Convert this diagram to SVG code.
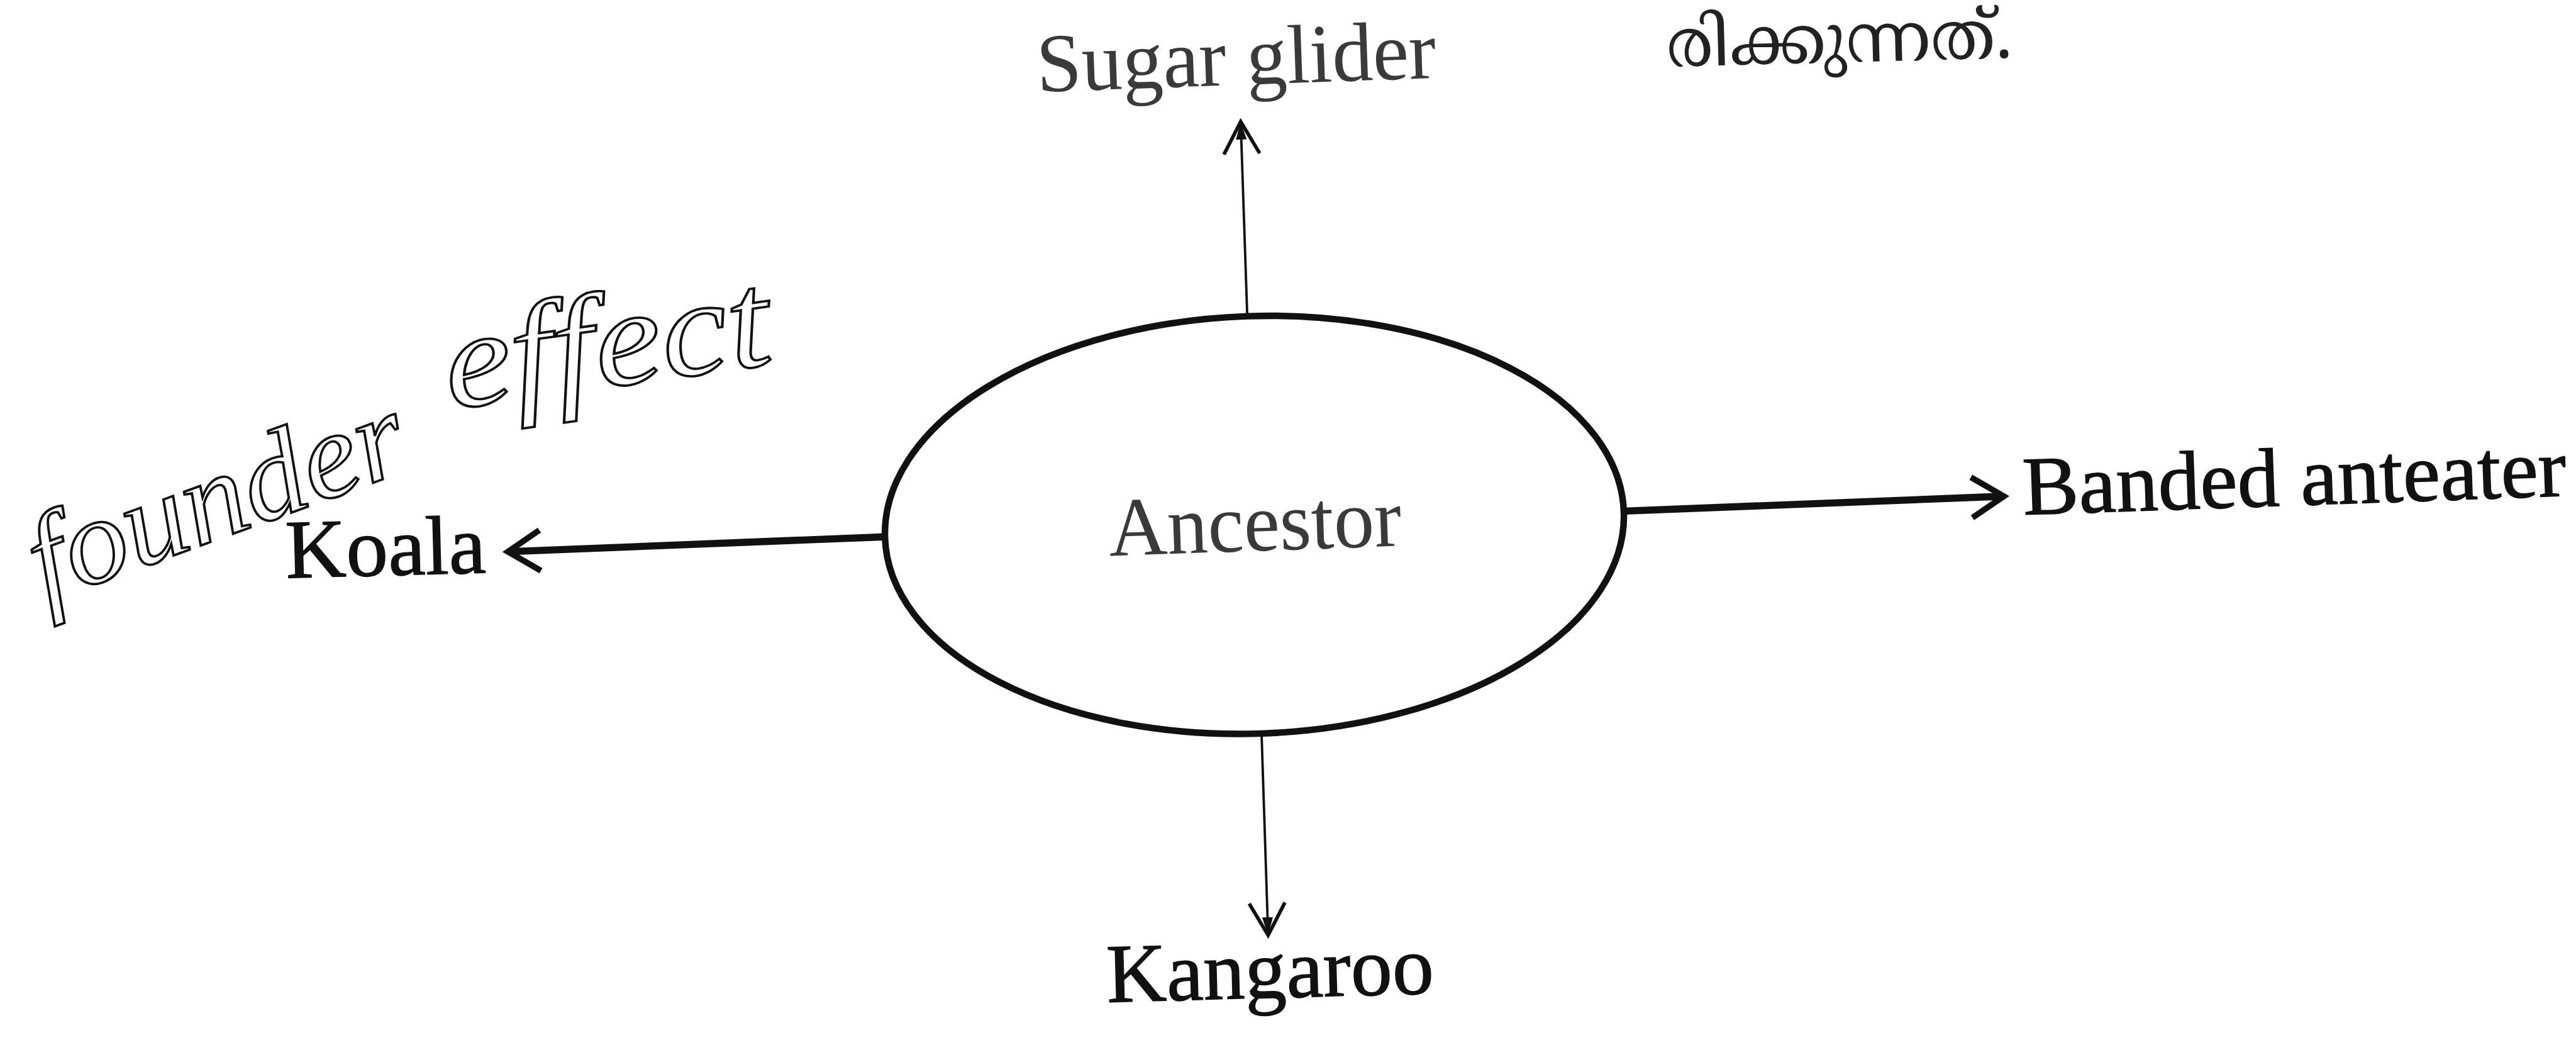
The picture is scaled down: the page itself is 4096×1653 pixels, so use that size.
<svg xmlns="http://www.w3.org/2000/svg" width="4096" height="1653" viewBox="0 0 4096 1653">
<style>
.lbl{font-family:"Liberation Serif","Times New Roman",serif;font-size:140px;fill:#111;stroke:#111;stroke-width:1.5}
.light{fill:#3a3a3a;stroke:none}
.hand{font-family:"Liberation Serif",serif;font-style:italic;fill:none;stroke:#111;stroke-width:4}
.ml{font-family:"Noto Serif Malayalam","Noto Sans Malayalam","Lohit Malayalam","Meera","Noto Sans",serif;font-size:112px;fill:#222}
.thick{stroke:#111;stroke-width:12;fill:none}
.thin{stroke:#111;stroke-width:4;fill:none}
.node{fill:#fff;stroke:#111;stroke-width:11}
</style>
<defs>
<marker id="chev" viewBox="-70 -45 80 90" refX="0" refY="0" markerWidth="80" markerHeight="90" markerUnits="userSpaceOnUse" orient="auto">
<path d="M-54,-34 L0,0 L-54,34" fill="none" stroke="#111" stroke-width="10" stroke-linejoin="miter"/>
</marker>
<marker id="barb" viewBox="-70 -40 80 80" refX="0" refY="0" markerWidth="80" markerHeight="80" markerUnits="userSpaceOnUse" orient="auto">
<path d="M-54,-30 L0,0 L-54,30" fill="none" stroke="#111" stroke-width="6"/>
<path d="M-30,-9 L0,0 L-30,9 Z" fill="#111"/>
</marker>
</defs>
<rect width="4096" height="1653" fill="#fff"/>
<g transform="scale(0.948)">
<g id="connectors">
<path class="thin" d="M2092,530 L2081,204" marker-end="url(#barb)"/>
<path class="thick" d="M1484,900 L852,925" marker-end="url(#chev)"/>
<path class="thick" d="M2724,857 L3361,832" marker-end="url(#chev)"/>
<path class="thin" d="M2116,1230 L2127,1568" stroke-width="6" marker-end="url(#barb)"/>
</g>
<g id="node-ancestor">
<ellipse class="node" cx="2104" cy="880" rx="620" ry="350" transform="rotate(-2 2104 880)"/>
<text class="lbl light" x="1861" y="932" font-size="130" textLength="491" lengthAdjust="spacingAndGlyphs" transform="rotate(-2 1861 932)">Ancestor</text>
</g>
<g id="node-sugar-glider">
<text class="lbl light" x="1740" y="154" font-size="138" textLength="670" lengthAdjust="spacingAndGlyphs" transform="rotate(-2 1740 154)">Sugar glider</text>
</g>
<g id="node-koala">
<text class="lbl" x="480" y="969" textLength="336" lengthAdjust="spacingAndGlyphs" transform="rotate(-1.5 480 969)">Koala</text>
</g>
<g id="node-banded-anteater">
<text class="lbl" x="3394" y="863" textLength="912" lengthAdjust="spacingAndGlyphs" transform="rotate(-2 3394 863)">Banded anteater</text>
</g>
<g id="node-kangaroo">
<text class="lbl" x="1857" y="1680" font-size="139" textLength="549" lengthAdjust="spacingAndGlyphs" transform="rotate(-1.5 1857 1680)">Kangaroo</text>
</g>
<g id="malayalam-note">
<text class="ml" x="2796" y="112" textLength="580" lengthAdjust="spacingAndGlyphs" transform="rotate(-1.5 2796 112)">രിക്കുന്നത്.</text>
</g>
<g id="handwriting">
<text class="hand" x="75" y="1010" font-size="205" textLength="660" lengthAdjust="spacingAndGlyphs" transform="rotate(-20 75 1010)">founder</text>
<text class="hand" x="755" y="686" font-size="230" textLength="550" lengthAdjust="spacingAndGlyphs" transform="rotate(-8 755 686)">effect</text>
</g>
</g>
</svg>
